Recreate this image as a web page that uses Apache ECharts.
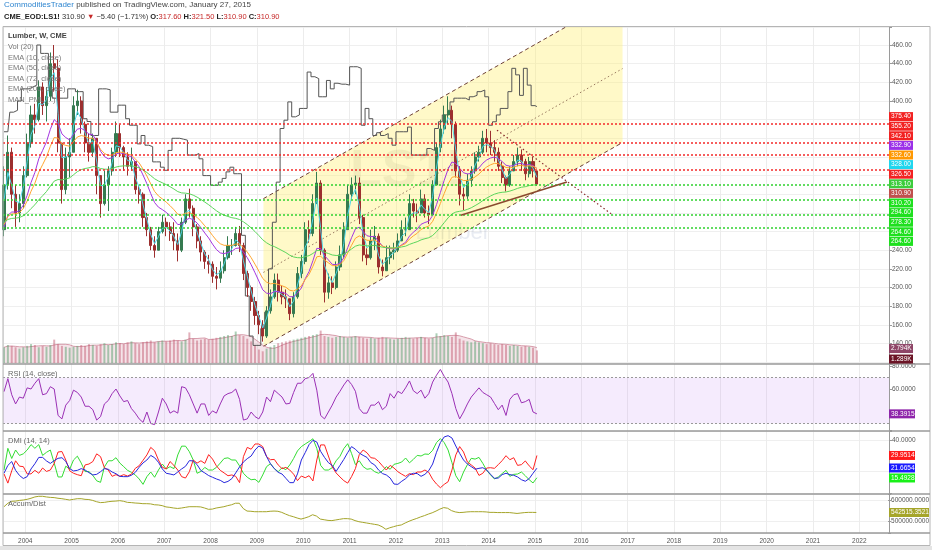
<!DOCTYPE html>
<html>
<head>
<meta charset="utf-8">
<title>Lumber LS1! weekly</title>
<script src="https://cdn.jsdelivr.net/npm/echarts@6/dist/echarts.min.js"></script>
<style>
html, body { margin: 0; padding: 0; background: #fff; }
#main { width: 932px; height: 550px; }
</style>
</head>
<body>
<div id="main"></div>
<script type="text/javascript">
// one value per month, first month = Jul 2003, last = Jan 2015
var firstYear = 2003, firstMonth = 7;
var firstOpen = 262;

var closes = [
  310, 345, 300, 280, 290, 320,
  355, 385, 380, 415, 395, 405, 440, 435, 355, 305, 340, 345,
  395, 400, 375, 355, 345, 360, 320, 290, 310, 325, 345, 365,
  350, 340, 330, 335, 305, 300, 275, 262, 245, 240, 260, 270,
  265, 258, 250, 240, 270, 295, 285, 265, 250, 238, 228, 225,
  212, 210, 218, 232, 245, 245, 258, 245, 215, 200, 185, 170,
  160, 148, 175, 190, 208, 195, 190, 188, 172, 190, 215, 228,
  262, 258, 290, 312, 240, 195, 205, 200, 222, 235, 262, 300,
  310, 312, 275, 235, 232, 250, 255, 222, 218, 232, 238, 240,
  250, 262, 262, 290, 282, 280, 295, 280, 278, 310, 350, 370,
  385, 390, 375, 325, 300, 298, 315, 325, 340, 345, 360, 355,
  350, 345, 330, 318, 310, 325, 335, 342, 335, 322, 335, 325,
  310.9
];
var highs = [
  330, 363, 350, 310, 300, 330,
  365, 395, 397, 422, 420, 415, 452, 460, 445, 355, 350, 360,
  405, 412, 405, 378, 365, 365, 360, 320, 325, 330, 350, 378,
  375, 352, 345, 350, 335, 310, 302, 280, 265, 255, 265, 278,
  275, 270, 270, 258, 275, 300, 306, 288, 268, 255, 240, 235,
  228, 222, 228, 240, 255, 252, 265, 266, 248, 218, 202, 190,
  175, 165, 180, 198, 215, 215, 202, 198, 188, 195, 222, 235,
  270, 272, 300, 324, 315, 242, 215, 212, 228, 245, 270, 310,
  318, 320, 318, 278, 242, 262, 266, 258, 230, 245, 245, 248,
  258, 272, 275, 300, 295, 290, 305, 300, 288, 315, 355, 380,
  395, 405, 395, 378, 330, 308, 322, 330, 345, 352, 368, 370,
  368, 358, 350, 335, 320, 330, 342, 350, 348, 338, 340, 340,
  325
];
var lows = [
  255, 305, 285, 265, 270, 285,
  318, 350, 365, 378, 385, 378, 400, 410, 345, 290, 300, 318,
  345, 385, 365, 345, 335, 340, 300, 275, 288, 282, 320, 340,
  340, 325, 320, 325, 300, 290, 265, 255, 240, 232, 240, 258,
  255, 250, 240, 228, 238, 268, 275, 255, 242, 228, 220, 215,
  205, 198, 205, 215, 230, 235, 244, 238, 208, 190, 175, 160,
  150, 142, 146, 172, 188, 185, 182, 178, 165, 168, 188, 210,
  225, 248, 255, 290, 235, 184, 188, 193, 198, 218, 232, 262,
  295, 300, 268, 228, 224, 230, 240, 215, 212, 218, 225, 230,
  238, 250, 255, 262, 275, 270, 282, 275, 268, 278, 310, 345,
  365, 375, 360, 318, 288, 283, 295, 308, 322, 335, 343, 345,
  342, 335, 325, 312, 303, 308, 325, 330, 325, 315, 318, 318,
  309
];
// thousands of contracts
var volumes = [
  3.5, 4.0, 3.8, 3.5, 3.2, 3.5,
  3.8, 4.2, 4.0, 3.5, 3.8, 3.6, 4.0, 5.2, 4.2, 3.8, 3.6, 3.4,
  3.6, 3.8, 4.0, 3.8, 4.2, 4.0, 3.8, 4.2, 4.4, 4.0, 4.2, 4.6,
  4.4, 4.2, 4.6, 4.8, 4.4, 4.2, 4.6, 4.8, 5.0, 4.6, 4.8, 5.0,
  4.8, 5.0, 5.2, 5.0, 4.8, 5.2, 6.8, 5.4, 5.0, 5.2, 5.4, 5.2,
  5.4, 5.6, 5.8, 6.0, 6.2, 6.0, 7.0, 6.2, 6.0, 5.4, 4.8, 4.0,
  3.0, 2.6, 3.2, 3.6, 4.0, 4.4, 4.6, 4.8, 5.0, 5.2, 5.4, 5.6,
  5.8, 6.0, 6.2, 6.4, 7.2, 6.0, 5.8, 5.6, 5.8, 6.0, 5.8, 5.6,
  5.8, 6.0, 5.8, 5.6, 5.4, 5.6, 5.4, 5.6, 5.8, 5.6, 5.4, 5.2,
  5.4, 5.6, 5.8, 5.6, 5.4, 5.6, 5.8, 5.6, 5.4, 5.6, 6.6, 6.0,
  6.2, 6.0, 5.8, 6.8, 5.4, 5.0, 4.8, 4.6, 4.8, 4.6, 4.4, 4.2,
  4.4, 4.2, 4.0, 4.2, 4.0, 3.8, 4.0, 3.8, 3.6, 3.8, 3.6, 3.4,
  2.8
];
var manPml = [
  367, 367, 388, 390, 400, 413,
  413, 415, 417, 460, 451, 451, 413, 403, 403, 403, 403, 413,
  413, 410, 410, 381, 378, 363, 363, 413, 413, 412, 388, 388,
  395.5, 395.5, 381, 374, 374, 354, 363, 352.6, 351, 334.7, 334.7, 329,
  325.7, 347, 360, 360, 359, 358, 342, 342, 343.6, 338, 320, 320,
  309.6, 309.6, 313, 317, 324, 329, 322, 322, 256, 191, 148, 138,
  138, 156, 173.6, 220, 270, 313, 370.5, 379.4, 399, 383, 385, 392,
  392, 431, 426, 424, 404.5, 404.5, 422, 413, 419, 418, 418, 417,
  436.7, 436.7, 435, 374, 392, 381, 363, 366, 363, 365, 360, 352.6,
  367, 367, 367, 372, 342, 342, 342, 342, 349, 347, 370.5, 377.7,
  385, 386.6, 399, 403, 403, 403, 401, 404.5, 406, 410, 411.7, 404.5,
  374, 377.7, 385, 392, 392, 410, 435, 428, 406, 435, 417, 395,
  394
];
var rsi = [
  57.7, 69, 55, 47, 53, 52,
  61, 60, 65, 69, 55, 56, 62, 60, 37, 34, 46, 50,
  59, 57, 53, 45, 45, 42, 33, 36, 47, 50, 56, 60,
  54, 49, 50, 43, 39, 34, 31, 40, 30, 29, 40, 52,
  47, 39, 41, 39, 62, 61, 55, 47, 39, 47, 47, 37,
  41, 39, 47, 54, 56, 57, 60, 51, 33, 34, 40, 36,
  34, 40, 53, 49, 59, 56, 53, 47, 47.5, 57, 65, 65,
  69, 70, 73.6, 59, 37, 34, 40, 46, 53, 58, 63.5, 68,
  64, 58, 43, 39, 39, 46, 46, 49, 42, 45, 56, 52,
  58, 56, 61, 67, 58.5, 56, 59, 52, 56, 66, 72, 77,
  71, 66, 56, 43, 34, 40, 47, 53, 57, 61, 57, 55,
  53, 47.5, 42, 46, 37, 51, 55, 56, 48, 49, 51, 40,
  38.39
];
var plusDI = [
  20.5, 34.6, 28, 33.5, 30, 31,
  33.5, 37, 34.6, 37, 30, 32, 33.5, 25, 16, 16, 23, 21,
  27, 29.5, 25, 19.5, 19.5, 17, 13.5, 12.5, 22.5, 26.5, 26.5, 28.5,
  25, 22.7, 20.3, 19, 17.3, 14.7, 11.2, 16.2, 19.2, 15.8, 20.5, 24.4,
  21.2, 22.7, 21.4, 30.3, 36, 36, 32.4, 27, 18.4, 19.6, 22.2, 20.5,
  20.5, 22.2, 25, 28, 28.4, 27, 27, 23.2, 18.4, 15.8, 14.2, 14.5,
  12.5, 17.3, 22.7, 24.6, 21.4, 19.4, 22, 20.7, 23.8, 28, 32.9, 35.7,
  37.4, 39, 40.8, 34.6, 23.5, 20.5, 20.5, 22, 26.5, 29.4, 34.4, 37.6,
  31.3, 24, 26.5, 22.7, 21, 21.4, 19.4, 18.4, 19.9, 22.7, 21, 24.2,
  24.8, 25.7, 28.3, 25.2, 27.4, 30, 29.6, 30.9, 30.7, 33.3, 38.3, 40.9,
  38.3, 33.5, 25.3, 16.8, 12.9, 19.2, 24, 28.1, 27.6, 28.7, 24.8, 20.3,
  17.3, 14.7, 16, 18.2, 20.3, 16.4, 17.7, 17.9, 19.2, 16.8, 14.2, 12.1,
  15.49
];
var minusDI = [
  18, 12, 20, 26.5, 23, 22.7,
  18, 18, 20.3, 18.4, 21.8, 19.6, 20.5, 24.8, 32.2, 32.5, 27, 20,
  18.4, 17.5, 16.8, 23.8, 24.4, 26, 31, 29.2, 22, 20.5, 16.4, 17.5,
  16.4, 17.5, 16.6, 17.8, 21.6, 23.3, 26.8, 30.3, 35.2, 33, 27, 22.3,
  21.2, 26, 23.5, 20.5, 16.2, 15.3, 19.4, 27, 25, 26.5, 24.8, 30.5,
  27.6, 23.2, 20.3, 18.6, 16.8, 17.3, 16.4, 12.3, 29.2, 35.2, 34, 37.4,
  37.4, 35.7, 29.2, 27.2, 27.4, 23.8, 21.4, 22.2, 20.5, 17.8, 13.6, 16.6,
  15.5, 16.8, 13.4, 27, 36.8, 36.8, 29.6, 22.5, 18.6, 16, 13.6, 12,
  16.2, 21.4, 30.5, 33.5, 31.7, 28.5, 28.1, 26.1, 23.2, 20.5, 23.5, 21.8,
  19.4, 17.8, 16.4, 18.2, 17.5, 19.2, 19.2, 20.5, 19, 14.5, 11.4, 9,
  11.2, 12.9, 20.5, 30.3, 35.7, 32.2, 25.7, 23.8, 21.8, 17, 18.4, 21.8,
  22, 21.6, 24, 26.6, 29.8, 27.2, 28.5, 23.5, 24, 26.4, 23.2, 20.7,
  29.95
];
var adx = [
  18.4, 23.5, 26, 20.3, 17, 15,
  16.2, 21.2, 24.6, 28.7, 28.7, 26.4, 24.8, 26.6, 28.1, 28.5, 26.1, 21.4,
  19.9, 20.3, 21.4, 20.5, 18.8, 17.3, 17.7, 19.4, 21.4, 21, 19.2, 18.1,
  16.4, 16.2, 16.2, 17.1, 19, 22.3, 25.1, 27, 30, 28.5, 25.5, 21.2,
  18.4, 17.9, 17.3, 19.2, 21.2, 22.9, 26.6, 26.4, 24, 20.1, 18.6, 16.9,
  15.8, 14.7, 13.8, 12.3, 13.1, 14.9, 18.6, 22.5, 25.7, 27.9, 29.6, 33.5,
  36.1, 34.8, 29.2, 24.6, 21.4, 19, 17.9, 15.1, 12.3, 12.3, 18, 27,
  31.8, 37, 39.8, 38.7, 32.6, 28.7, 25.3, 23.5, 19.6, 23.5, 27.4, 31.8,
  35.7, 34, 31.5, 30, 28.7, 25.3, 23.8, 20.5, 18.2, 17.3, 15.3, 11.4,
  11.2, 13.2, 14.9, 17.3, 18.4, 18.2, 16.4, 17.7, 20.1, 24.4, 32, 38.3,
  42, 42.8, 41.3, 36.1, 31.3, 27, 24.4, 22.7, 21, 21.6, 22, 20.5,
  17.7, 15.1, 15.3, 17.5, 18.4, 17.5, 17.1, 16, 14.2, 13.2, 14.9, 18.4,
  21.67
];
// thousands
var accDist = [
  569, 585, 594, 595, 598, 600,
  603, 608, 614, 617, 617, 614, 612, 611, 608, 606, 603, 600,
  603, 606, 606, 603, 602, 598, 592, 588, 589, 592, 594, 595,
  597, 594, 589, 588, 586, 585, 583, 583, 582, 578, 577, 574,
  568, 566, 563, 561, 563, 566, 569, 569, 569, 568, 563, 557,
  558, 563, 566, 569, 574, 578, 585, 585, 561, 549, 548, 546,
  546, 546, 546, 548, 549, 548, 543, 535, 528, 523, 517, 512,
  517, 523, 532, 526, 512, 509, 506, 505, 508, 511, 514, 514,
  512, 505, 500, 497, 494, 491, 488, 485, 477, 465, 472, 477,
  482, 485, 494, 502, 509, 515, 522, 528, 535, 541, 549, 558,
  565, 562, 551, 545, 542, 543, 545, 546, 546, 546, 546, 545,
  543, 543, 542, 542, 542, 542, 540, 538, 540, 542, 543, 543,
  542.5
];

var emaPeriods = [10, 50, 72, 200];
var emaStart = [270, 256, 262, 268];
var emaColors = ['#4fd8e8', '#a536e0', '#ffa630', '#5cd65c'];

var levelsRed = [375.4, 355.2, 342.1, 326.5];
var levelsGreen = [310.2, 294.6, 278.3, 264.6];

// drawn annotations, in [decimal year, price]
var channelX = [2009.14, 2016.89];
var channelLow = [137, 355.5];
var channelMid = [216.2, 434.7];
var channelHigh = [295.3, 513.8];
var trendDown = [[2014.18, 368.7], [2016.69, 277.4]];
var trendUp = [[2013.40, 277.4], [2015.69, 313.2]];

// last-value tags on the price scale
var priceTags = [
  [375.40, '#f22222'], [355.20, '#f22222'], [342.10, '#f22222'],
  [332.90, '#9b30e8'], [332.60, '#ff9800'], [328.00, '#1fd6ee'],
  [326.50, '#f22222'], [313.10, '#3ccc3c'], [310.90, '#c0504d'],
  [310.20, '#1ee01e'], [294.60, '#1ee01e'], [278.30, '#1ee01e'],
  [264.60, '#1ee01e'], [264.60, '#1ee01e']
];
var volTags = [[2.794, '2.794K', '#8e4466'], [1.289, '1.289K', '#6b1426']];
var rsiTag = [38.3915, '#8e24aa'];
var dmiTags = [[29.9514, '#ff1a1a'], [21.6654, '#1a1aff'], [15.4928, '#19f019']];
var adTag = [542.5153521, '542515.3521', '#a5a52a'];

var X0 = 2003.52, X1 = 2022.64;
var FONT = '"Liberation Sans", Arial, sans-serif';

var months = [];
for (var k = 0; k < closes.length; k++) {
    months.push(firstYear + (firstMonth - 1 + k + 0.5) / 12);
}
function pairs(arr) {
    return arr.map(function (v, i) { return [months[i], v]; });
}

var candles = [], volBars = [];
closes.forEach(function (c, i) {
    var o = i === 0 ? firstOpen : closes[i - 1];
    candles.push([months[i], o, c, lows[i], highs[i]]);
    volBars.push({
        value: [months[i], volumes[i]],
        itemStyle: {color: c >= o ? 'rgba(70,150,95,0.45)' : 'rgba(190,80,105,0.45)'}
    });
});

function ema(period, start) {
    // weekly EMA carried over monthly steps
    var a = 1 - Math.pow(1 - 2 / (period + 1), 52 / 12);
    var v = start;
    return closes.map(function (c, i) {
        v = v + a * (c - v);
        return [months[i], +v.toFixed(2)];
    });
}
function sma(arr, n) {
    return arr.map(function (v, i) {
        var s = 0, c = 0;
        for (var j = Math.max(0, i - n + 1); j <= i; j++) { s += arr[j]; c++; }
        return [months[i], +(s / c).toFixed(3)];
    });
}

var myChart = echarts.init(document.getElementById('main'));

function xAx(i) {
    return {type: 'value', gridIndex: i, min: X0, max: X1, show: false};
}
var bgX = {
    type: 'value', gridIndex: 0, min: X0, max: X1, splitNumber: 19,
    axisLine: {show: false}, axisTick: {show: false},
    axisLabel: {
        fontSize: 6.5, color: '#555', margin: 5, fontFamily: FONT,
        showMinLabel: false, showMaxLabel: false,
        formatter: function (v) { return Math.abs(v - Math.round(v)) < 1e-6 ? String(Math.round(v)) : ''; }
    },
    splitLine: {show: true, lineStyle: {color: '#ececec', width: 1}}
};
function valLabel(show, digits, scale) {
    return {
        fontSize: 6.5, color: '#555', margin: 3, fontFamily: FONT,
        formatter: function (v) {
            return show(v) ? (v * (scale || 1)).toFixed(digits) : '';
        }
    };
}
function near(v, list) {
    return list.some(function (t) { return Math.abs(v - t) < 1e-6; });
}
function legendText(top, text, color, weight) {
    return {left: 8, top: top, padding: 0, text: text,
            textStyle: {color: color || '#777', fontSize: 7.5, fontWeight: weight || 'normal', fontFamily: FONT}};
}

var emaSeries = emaPeriods.map(function (p, i) {
    return {
        name: 'EMA ' + p, type: 'line', xAxisIndex: 1, yAxisIndex: 1,
        data: ema(p, emaStart[i]), showSymbol: false, z: 4,
        lineStyle: {color: emaColors[i], width: 1}
    };
});
var levelLines = levelsRed.map(function (v) {
    return {yAxis: v, lineStyle: {color: '#f42a2a'}};
}).concat(levelsGreen.map(function (v) {
    return {yAxis: v, lineStyle: {color: '#2fd22f'}};
}));
emaSeries[3].markLine = {
    silent: true, symbol: 'none', label: {show: false},
    lineStyle: {type: [2, 2], width: 1.5},
    data: levelLines
};

var option = {
    animation: false,
    backgroundColor: '#fff',
    title: [
        {
            left: 4, top: 1, padding: 0,
            text: '{a|CommoditiesTrader}{b| published on TradingView.com, January 27, 2015}',
            textStyle: {fontWeight: 'normal', rich: {
                a: {color: '#2f86d0', fontSize: 8, fontWeight: 'normal', fontFamily: FONT},
                b: {color: '#444', fontSize: 8, fontWeight: 'normal', fontFamily: FONT}
            }}
        },
        {
            left: 4, top: 13, padding: 0,
            text: '{k|CME_EOD:LS1!}{n| 310.90 }{r|\u25BC}{n| \u22125.40 (\u22121.71%) }{k|O:}{r|317.60}{k| H:}{r|321.50}{k| L:}{r|310.90}{k| C:}{r|310.90}',
            textStyle: {fontWeight: 'normal', rich: {
                k: {color: '#222', fontSize: 7.5, fontWeight: 'bold', fontFamily: FONT},
                n: {color: '#333', fontSize: 7.5, fontWeight: 'normal', fontFamily: FONT},
                r: {color: '#c62828', fontSize: 7.5, fontWeight: 'normal', fontFamily: FONT}
            }}
        },
        legendText(32, 'Lumber, W, CME', '#444', 'bold'),
        legendText(43, 'Vol (20)'),
        legendText(53.5, 'EMA (10, close)'),
        legendText(64, 'EMA (50, close)'),
        legendText(74.5, 'EMA (72, close)'),
        legendText(85, 'EMA (200, close)'),
        legendText(95.5, 'MAN_PML (..)'),
        legendText(370, 'RSI (14, close)', '#666'),
        legendText(437, 'DMI (14, 14)', '#666'),
        legendText(500, 'Accum/Dist', '#666')
    ],
    grid: [
        {left: 3, right: 43, top: 27, height: 506},
        {left: 3, right: 43, top: 27, height: 336},
        {left: 3, right: 43, top: 300, height: 63},
        {left: 3, right: 43, top: 364, height: 66.7},
        {left: 3, right: 43, top: 431, height: 62},
        {left: 3, right: 43, top: 494, height: 39}
    ],
    xAxis: [bgX, xAx(1), xAx(2), xAx(3), xAx(4), xAx(5)],
    yAxis: [
        {type: 'value', gridIndex: 0, position: 'right', min: 0, max: 1,
         axisLabel: {show: false}, axisTick: {show: false}, splitLine: {show: false},
         axisLine: {show: true, lineStyle: {color: '#9a9a9a'}}},
        {type: 'value', gridIndex: 1, position: 'right', min: 119.1, max: 479.3, splitNumber: 18,
         axisLine: {show: false}, axisTick: {show: true, length: 3, lineStyle: {color: '#999'}},
         axisLabel: valLabel(function (v) { return v >= 139.9 && v <= 460.1 && Math.abs(v % 20) < 1e-6; }, 2),
         splitLine: {lineStyle: {color: '#efefef'}}},
        {type: 'value', gridIndex: 2, min: 0, max: 14, show: false},
        {type: 'value', gridIndex: 3, position: 'right', min: 23.74, max: 81.74, splitNumber: 3,
         axisLine: {show: false}, axisTick: {show: true, length: 3, lineStyle: {color: '#999'}},
         axisLabel: valLabel(function (v) { return near(v, [60, 80]); }, 4),
         splitLine: {show: false}},
        {type: 'value', gridIndex: 4, position: 'right', min: 5.58, max: 45.84, splitNumber: 2,
         axisLine: {show: false}, axisTick: {show: true, length: 3, lineStyle: {color: '#999'}},
         axisLabel: valLabel(function (v) { return near(v, [40]); }, 4),
         splitLine: {lineStyle: {color: '#efefef'}}},
        {type: 'value', gridIndex: 5, position: 'right', min: 447.9, max: 627.6, splitNumber: 2,
         axisLine: {show: false}, axisTick: {show: true, length: 3, lineStyle: {color: '#999'}},
         axisLabel: valLabel(function (v) { return near(v, [500, 600]); }, 4, 1000),
         splitLine: {lineStyle: {color: '#efefef'}}}
    ],
    series: [
        {
            type: 'custom', xAxisIndex: 1, yAxisIndex: 1, clip: true, z: 1, silent: true,
            data: [[channelX[0], channelLow[0]]],
            encode: {x: 0, y: 1},
            renderItem: function (params, api) {
                var lo0 = api.coord([channelX[0], channelLow[0]]), lo1 = api.coord([channelX[1], channelLow[1]]);
                var hi0 = api.coord([channelX[0], channelHigh[0]]), hi1 = api.coord([channelX[1], channelHigh[1]]);
                var md0 = api.coord([channelX[0], channelMid[0]]), md1 = api.coord([channelX[1], channelMid[1]]);
                return {
                    type: 'group', children: [
                        {type: 'polygon', shape: {points: [lo0, lo1, hi1, hi0]},
                         style: {fill: 'rgba(255,238,110,0.38)'}},
                        {type: 'line', shape: {x1: hi0[0], y1: hi0[1], x2: hi1[0], y2: hi1[1]},
                         style: {stroke: '#6d4035', lineWidth: 1, lineDash: [4, 3]}},
                        {type: 'line', shape: {x1: lo0[0], y1: lo0[1], x2: lo1[0], y2: lo1[1]},
                         style: {stroke: '#6d4035', lineWidth: 1, lineDash: [4, 3]}},
                        {type: 'line', shape: {x1: md0[0], y1: md0[1], x2: md1[0], y2: md1[1]},
                         style: {stroke: '#9a7a60', lineWidth: 1, lineDash: [1.5, 2.5]}}
                    ]
                };
            }
        },
        {
            name: 'MAN_PML', type: 'line', xAxisIndex: 1, yAxisIndex: 1, step: 'middle',
            data: pairs(manPml), showSymbol: false, z: 3,
            lineStyle: {color: '#555', width: 1}
        },
        {
            name: 'Lumber', type: 'candlestick', xAxisIndex: 1, yAxisIndex: 1,
            data: candles, barWidth: 2.6, z: 3,
            encode: {x: 0, y: [1, 2, 3, 4]},
            itemStyle: {color: '#357a50', color0: '#9c2f2f', borderColor: '#357a50', borderColor0: '#9c2f2f', borderWidth: 1}
        }
    ].concat(emaSeries).concat([
        {
            type: 'line', xAxisIndex: 1, yAxisIndex: 1, data: trendDown, showSymbol: false, z: 5, silent: true,
            lineStyle: {color: '#8b2e2e', width: 1.2, type: [1.5, 2.5]}
        },
        {
            type: 'line', xAxisIndex: 1, yAxisIndex: 1, data: trendUp, showSymbol: false, z: 5, silent: true,
            lineStyle: {color: '#8a4a2e', width: 1.5}
        },
        {
            name: 'Vol', type: 'bar', xAxisIndex: 2, yAxisIndex: 2, data: volBars, barWidth: 2, z: 2
        },
        {
            name: 'Vol MA', type: 'line', xAxisIndex: 2, yAxisIndex: 2, data: sma(volumes, 5), showSymbol: false, z: 1,
            lineStyle: {color: 'rgba(200,120,140,0.7)', width: 1},
            areaStyle: {color: 'rgba(225,170,185,0.45)'}
        },
        {
            name: 'RSI', type: 'line', xAxisIndex: 3, yAxisIndex: 3, data: pairs(rsi), showSymbol: false,
            lineStyle: {color: '#9b30b5', width: 1},
            markArea: {silent: true, itemStyle: {color: 'rgba(190,130,240,0.16)'},
                       data: [[{yAxis: 30}, {yAxis: 70}]]},
            markLine: {silent: true, symbol: 'none', label: {show: false},
                       lineStyle: {color: '#999', type: [2, 2], width: 1},
                       data: [{yAxis: 30}, {yAxis: 70}]}
        },
        {
            name: '+DI', type: 'line', xAxisIndex: 4, yAxisIndex: 4, data: pairs(plusDI), showSymbol: false,
            lineStyle: {color: '#33dd33', width: 1}
        },
        {
            name: '-DI', type: 'line', xAxisIndex: 4, yAxisIndex: 4, data: pairs(minusDI), showSymbol: false,
            lineStyle: {color: '#ff2222', width: 1}
        },
        {
            name: 'ADX', type: 'line', xAxisIndex: 4, yAxisIndex: 4, data: pairs(adx), showSymbol: false,
            lineStyle: {color: '#2727dd', width: 1}
        },
        {
            name: 'Accum/Dist', type: 'line', xAxisIndex: 5, yAxisIndex: 5, data: pairs(accDist), showSymbol: false,
            lineStyle: {color: '#a5a52a', width: 1}
        }
    ])
};

myChart.setOption(option);

// spread overlapping tags apart, keeping each cluster centred on its values
function spread(items, h) {
    items.sort(function (a, b) { return a.y - b.y; });
    var groups = items.map(function (it) { return {items: [it], top: it.y - h / 2}; });
    var changed = true;
    while (changed) {
        changed = false;
        for (var i = 0; i < groups.length - 1; i++) {
            var g = groups[i], n = groups[i + 1];
            if (g.top + g.items.length * h > n.top + 0.01) {
                var all = g.items.concat(n.items);
                var mean = all.reduce(function (s, it) { return s + it.y; }, 0) / all.length;
                groups.splice(i, 2, {items: all, top: mean - all.length * h / 2});
                changed = true;
                break;
            }
        }
    }
    groups.forEach(function (g) {
        g.items.forEach(function (it, j) { it.py = g.top + j * h + h / 2; });
    });
    return items;
}
function tag(text, color, y, w) {
    return [
        {type: 'rect', shape: {x: 889, y: y - 4.5, width: w, height: 9}, style: {fill: color}, z: 50},
        {type: 'text', x: 891, y: y, z: 51,
         style: {text: text, fill: '#fff', font: '6.5px ' + FONT,
                 textVerticalAlign: 'middle', verticalAlign: 'middle', textAlign: 'left', align: 'left'}}
    ];
}

var g = [];
// frame and pane separators
g.push({type: 'rect', shape: {x: 0, y: 546, width: 932, height: 4}, style: {fill: '#e4e4e4'}, z: 40});
g.push({type: 'rect', shape: {x: 3, y: 26.5, width: 927, height: 519}, style: {fill: 'none', stroke: '#b5b5b5', lineWidth: 1}, z: 40});
[364, 431, 494, 533].forEach(function (y) {
    g.push({type: 'line', shape: {x1: 3, y1: y, x2: 930, y2: y}, style: {stroke: '#9a9a9a', lineWidth: 1.3}, z: 40});
});
// watermark
g.push({type: 'text', x: 350, y: 172, z: 0, silent: true,
        style: {text: 'LS1!', fill: 'rgba(0,0,0,0.08)', font: 'bold 52px ' + FONT,
                textVerticalAlign: 'middle', verticalAlign: 'middle'}});
g.push({type: 'text', x: 490, y: 233, z: 0, silent: true,
        style: {text: 'Lumber', fill: 'rgba(90,110,160,0.14)', font: '22px ' + FONT,
                textAlign: 'right', align: 'right', textVerticalAlign: 'middle', verticalAlign: 'middle'}});

var pTags = spread(priceTags.map(function (t) {
    return {y: myChart.convertToPixel({yAxisIndex: 1}, t[0]), text: t[0].toFixed(2), color: t[1]};
}), 9.6);
pTags.forEach(function (t) { g = g.concat(tag(t.text, t.color, t.py, 24)); });

var vTags = spread(volTags.map(function (t) {
    return {y: myChart.convertToPixel({yAxisIndex: 2}, t[0]), text: t[1], color: t[2]};
}), 10.5);
vTags.forEach(function (t) { g = g.concat(tag(t.text, t.color, t.py, 24)); });

g = g.concat(tag(rsiTag[0].toFixed(4), rsiTag[1], myChart.convertToPixel({yAxisIndex: 3}, rsiTag[0]), 26));
var dTags = spread(dmiTags.map(function (t) {
    return {y: myChart.convertToPixel({yAxisIndex: 4}, t[0]), text: t[0].toFixed(4), color: t[1]};
}), 10);
dTags.forEach(function (t) { g = g.concat(tag(t.text, t.color, t.py, 26)); });
g = g.concat(tag(adTag[1], adTag[2], myChart.convertToPixel({yAxisIndex: 5}, adTag[0]), 40));

myChart.setOption({graphic: g});
</script>
</body>
</html>
